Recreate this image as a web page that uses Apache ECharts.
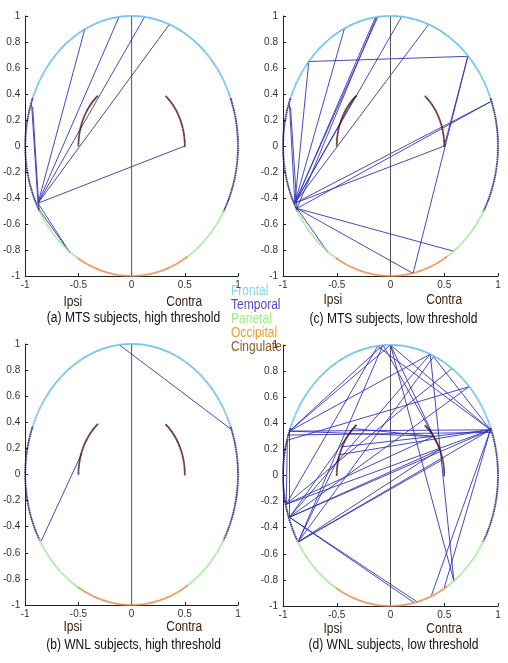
<!DOCTYPE html>
<html>
<head>
<meta charset="utf-8">
<script src="https://cdn.jsdelivr.net/npm/echarts@6/dist/echarts.min.js"></script>
<style>html,body{margin:0;padding:0;background:#fff}#c{width:508px;height:663px}</style>
</head>
<body>
<div id="c"></div>
<script>
// ---- Region layout on the unit ring (angles in degrees) ----
const regionNames = ['Frontal', 'Temporal', 'Parietal', 'Occipital', 'Cingulate'];
const frontalArcs = [[21, 159]];
const temporalArcs = [[-30, 21], [159, 210]];
const parietalArcs = [[-59, -30], [210, 240]];
const occipitalArcs = [[-120, -59]];
const cingulateArcs = [[0, 50], [130, 180]];
const ringRadius = 1;
const cingulateRadius = 0.5;
const nodeStepDeg = 1;

// ---- Axis ticks ----
const xTicks = [-1, -0.5, 0, 0.5, 1];
const yTicks = [-1, -0.8, -0.6, -0.4, -0.2, 0, 0.2, 0.4, 0.6, 0.8, 1];
const midLine = [[0, -1], [0, 1]];

// ---- Connections [x1, y1, x2, y2] per panel ----
const edgesA = [
  [-0.88, -0.44, -0.44, 0.90],
  [-0.88, -0.44, -0.12, 0.99],
  [-0.88, -0.44, 0.12, 0.99],
  [-0.88, -0.44, 0.35, 0.93],
  [-0.88, -0.44, 0.50, 0.00],
  [-0.88, -0.44, -0.94, 0.32],
  [-0.87, -0.49, -0.93, 0.30],
  [-0.88, -0.44, -0.58, -0.82],
  [-0.87, -0.49, -0.58, -0.82]
];
const edgesB = [
  [-0.11, 0.99, 0.93, 0.35],
  [-0.85, -0.51, -0.47, 0.16]
];
const edgesC = [
  [-0.76, 0.65, 0.72, 0.69],
  [0.72, 0.69, 0.50, 0.00],
  [0.72, 0.69, 0.21, -0.98],
  [-0.89, -0.44, -0.76, 0.65],
  [-0.89, -0.44, -0.43, 0.90],
  [-0.89, -0.44, -0.14, 0.99],
  [-0.87, -0.48, -0.13, 0.99],
  [-0.89, -0.44, -0.12, 0.99],
  [-0.89, -0.44, 0.10, 0.99],
  [-0.89, -0.44, 0.35, 0.93],
  [-0.89, -0.44, -0.33, 0.38],
  [-0.89, -0.44, -0.94, 0.32],
  [-0.87, -0.48, -0.93, 0.30],
  [-0.89, -0.44, 0.50, 0.00],
  [-0.89, -0.44, 0.93, 0.34],
  [-0.87, -0.48, 0.93, 0.34],
  [-0.87, -0.48, 0.59, -0.81],
  [-0.87, -0.48, 0.21, -0.98],
  [-0.87, -0.48, -0.58, -0.82]
];
const edgesD = [
  [-0.94, 0.34, 0.93, 0.35],
  [-0.96, 0.31, 0.94, 0.33],
  [-0.94, 0.34, -0.94, -0.32],
  [-0.96, 0.27, -0.97, -0.22],
  [0.00, 1.00, -0.94, 0.34],
  [-0.07, 1.00, -0.94, 0.34],
  [-0.12, 0.99, -0.97, -0.22],
  [-0.07, 1.00, -0.86, -0.51],
  [0.00, 1.00, 0.59, -0.81],
  [0.37, 0.93, 0.59, -0.81],
  [0.93, 0.35, 0.38, -0.92],
  [0.93, 0.35, 0.50, -0.86],
  [-0.94, -0.32, 0.25, -0.97],
  [-0.94, -0.32, 0.22, -0.975],
  [0.00, 1.00, 0.93, 0.35],
  [-0.12, 0.99, 0.93, 0.35],
  [0.40, 0.91, 0.93, 0.35],
  [0.37, 0.93, -0.94, 0.34],
  [0.37, 0.93, -0.94, -0.32],
  [0.40, 0.91, -0.86, -0.51],
  [0.57, 0.82, -0.97, -0.22],
  [0.73, 0.68, -0.94, -0.32],
  [0.73, 0.68, -0.96, 0.27],
  [0.93, 0.35, -0.47, 0.16],
  [0.93, 0.35, -0.45, 0.22],
  [0.93, 0.35, -0.94, -0.32],
  [0.93, 0.35, -0.86, -0.51],
  [0.93, 0.35, -0.97, -0.22],
  [0.46, 0.20, -0.94, -0.32],
  [0.46, 0.20, -0.86, -0.51],
  [0.40, 0.30, -0.97, -0.22],
  [0.48, 0.12, -0.86, -0.51],
  [0.40, 0.30, -0.35, 0.36],
  [0.00, 1.00, 0.46, 0.20],
  [-0.07, 1.00, 0.40, 0.30],
  [-0.94, 0.34, 0.40, 0.30],
  [-0.86, -0.51, -0.47, 0.16],
  [-0.94, -0.32, -0.35, 0.36]
];

// ---- Texts ----
const panelTitles = ['(a) MTS subjects, high threshold', '(c) MTS subjects, low threshold',
                     '(b) WNL subjects, high threshold', '(d) WNL subjects, low threshold'];
const sideLabels = ['Ipsi', 'Contra'];

// ---- Styles ----
const ringColors = { Frontal: '#52b2e6', Temporal: '#1e1e6c', Parietal: '#92e68a', Occipital: '#e8803e', Cingulate: '#4e140a' };
const legendColors = { Frontal: '#84d6f2', Temporal: '#5a48c8', Parietal: '#a2ee84', Occipital: '#eea035', Cingulate: '#8a5a2a' };
const FONT = "'Liberation Sans', Arial, sans-serif";
const SQUEEZE = 0.86;

const panels = [
  { grid: { left: 23, top: 16, width: 215, height: 260 }, edges: edgesA, title: panelTitles[0], labY: 302, titleY: 318 },
  { grid: { left: 283, top: 16, width: 215, height: 260 }, edges: edgesC, title: panelTitles[1], labY: 300, titleY: 319 },
  { grid: { left: 23, top: 344, width: 215, height: 261 }, edges: edgesB, title: panelTitles[2], labY: 627, titleY: 645 },
  { grid: { left: 283, top: 345, width: 215, height: 261 }, edges: edgesD, title: panelTitles[3], labY: 629, titleY: 645 }
];

function arcPoints(arcs, r, step) {
  const pts = [];
  arcs.forEach(([a0, a1]) => {
    for (let a = a0; a <= a1 + 1e-9; a += step) {
      const t = a * Math.PI / 180;
      pts.push([r * Math.cos(t), r * Math.sin(t)]);
    }
  });
  return pts;
}
const ringNodes = {
  Frontal: arcPoints(frontalArcs, ringRadius, nodeStepDeg),
  Temporal: arcPoints(temporalArcs, ringRadius, nodeStepDeg),
  Parietal: arcPoints(parietalArcs, ringRadius, nodeStepDeg),
  Occipital: arcPoints(occipitalArcs, ringRadius, nodeStepDeg),
  Cingulate: arcPoints(cingulateArcs, cingulateRadius, 1.5)
};

const fmt = v => String(Math.round(v * 10) / 10);

function squeezedText(text, x, y, size, color) {
  return {
    type: 'text', x, y, scaleX: SQUEEZE, silent: true,
    style: { text, x: 0, y: 0, textAlign: 'center', textVerticalAlign: 'middle', font: size + 'px ' + FONT, fill: color }
  };
}

const grids = [], xAxes = [], yAxes = [], series = [], graphics = [];
panels.forEach((p, i) => {
  grids.push(Object.assign({ containLabel: false }, p.grid));
  xAxes.push({
    type: 'value', gridIndex: i, min: xTicks[0], max: xTicks[xTicks.length - 1], interval: 0.5,
    axisLine: { show: true, onZero: false, lineStyle: { color: '#222', width: 1 } },
    axisTick: { show: true, inside: true, length: 3, lineStyle: { color: '#222' } },
    axisLabel: { fontSize: 10, color: '#333', margin: 4, fontFamily: FONT, formatter: fmt },
    splitLine: { show: false }
  });
  yAxes.push({
    type: 'value', gridIndex: i, min: yTicks[0], max: yTicks[yTicks.length - 1], interval: 0.2,
    axisLine: { show: true, onZero: false, lineStyle: { color: '#222', width: 1 } },
    axisTick: { show: true, inside: true, length: 3, lineStyle: { color: '#222' } },
    axisLabel: { fontSize: 10, color: '#333', margin: 5, fontFamily: FONT, formatter: fmt },
    splitLine: { show: false }
  });
  series.push({
    type: 'line', xAxisIndex: i, yAxisIndex: i, data: midLine, symbol: 'none', silent: true,
    lineStyle: { color: '#555', width: 1 }, z: 1
  });
  series.push({
    type: 'lines', coordinateSystem: 'cartesian2d', xAxisIndex: i, yAxisIndex: i, silent: true,
    data: p.edges.map(e => ({ coords: [[e[0], e[1]], [e[2], e[3]]] })),
    lineStyle: { color: '#3434b8', width: 1, opacity: 0.9 }, z: 2
  });
  regionNames.forEach(name => {
    series.push({
      name, type: 'scatter', xAxisIndex: i, yAxisIndex: i, data: ringNodes[name],
      symbol: 'circle', symbolSize: name === 'Cingulate' ? 2.1 : 2.2, silent: true,
      itemStyle: { color: ringColors[name] }, z: 3
    });
  });
  const g = p.grid;
  const xAt = v => g.left + (v + 1) / 2 * g.width;
  graphics.push(squeezedText(sideLabels[0], xAt(-0.5) - 4, p.labY, 14, '#3a2412'));
  graphics.push(squeezedText(sideLabels[1], xAt(0.5), p.labY, 14, '#3a2412'));
  graphics.push(squeezedText(p.title, g.left + g.width / 2 + 3, p.titleY, 14, '#111'));
});

// legend as coloured texts between the panels
const legendTop = 291, legendStep = 14;
regionNames.forEach((n, k) => {
  const t = squeezedText(n, 231, legendTop + k * legendStep, 14, legendColors[n]);
  t.style.textAlign = 'left';
  graphics.push(t);
});

const chart = echarts.init(document.getElementById('c'), null, { renderer: 'canvas' });
chart.setOption({
  animation: false,
  backgroundColor: '#fff',
  grid: grids, xAxis: xAxes, yAxis: yAxes, series,
  graphic: graphics
});
</script>
</body>
</html>
